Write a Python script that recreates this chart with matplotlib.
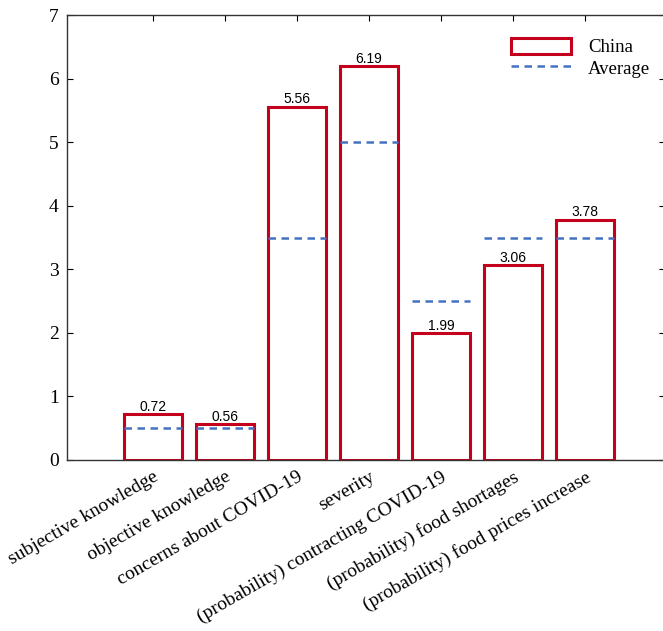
import matplotlib
matplotlib.use("Agg")
import matplotlib.pyplot as plt
from matplotlib.patches import Patch
from matplotlib.lines import Line2D

categories = ["subjective knowledge", "objective knowledge", "concerns about COVID-19",
              "severity", "(probability) contracting COVID-19",
              "(probability) food shortages", "(probability) food prices increase"]
china = [0.72, 0.56, 5.56, 6.19, 1.99, 3.06, 3.78]
average = [0.5, 0.5, 3.5, 5.0, 2.5, 3.5, 3.5]
yticks = [0, 1, 2, 3, 4, 5, 6, 7]

red = "#C4001C"
blue = "#4472C4"
serif = "Liberation Serif"
dash = (0, (3, 2.2))

fig = plt.figure(figsize=(6.63, 6.31), dpi=100)
ax = fig.add_axes([67/663, 1-460/631, (665-67)/663, (460-15)/631])

pos = list(range(1, len(categories) + 1))
w = 0.8
ax.bar(pos, china, width=w, facecolor="white", edgecolor=red, linewidth=2.2, zorder=2)
for p, a in zip(pos, average):
    ax.plot([p - w/2, p + w/2], [a, a], color=blue, linestyle=dash, linewidth=1.8, zorder=3)
for p, v in zip(pos, china):
    ax.text(p, v + 0.01, f"{v:.2f}", ha="center", va="bottom", fontsize=10,
            family="Liberation Sans")

ax.set_xlim(-0.19, 8.11)
ax.set_ylim(0, 7)
ax.set_yticks(yticks)
ax.set_yticklabels([str(t) for t in yticks], family=serif, fontsize=14)
ax.set_xticks(pos)
ax.set_xticklabels(categories, rotation=30, ha="right", rotation_mode="anchor",
                   family=serif, fontsize=14)
ax.tick_params(direction="in", top=True, right=True, length=4, width=0.8, pad=6)
for s in ax.spines.values():
    s.set_color("#333333")
    s.set_linewidth(1.0)

handles = [Patch(facecolor="white", edgecolor=red, linewidth=2.2),
           Line2D([0], [0], color=blue, linestyle=dash, linewidth=1.8)]
leg = ax.legend(handles, ["China", "Average"], loc="upper right",
                bbox_to_anchor=((667-67)/598, 1-6/445), frameon=False,
                prop={"family": serif, "size": 13.5}, handlelength=3.2,
                handleheight=0.95, handletextpad=0.9, labelspacing=0.15)

fig.savefig("out.png", dpi=100)
